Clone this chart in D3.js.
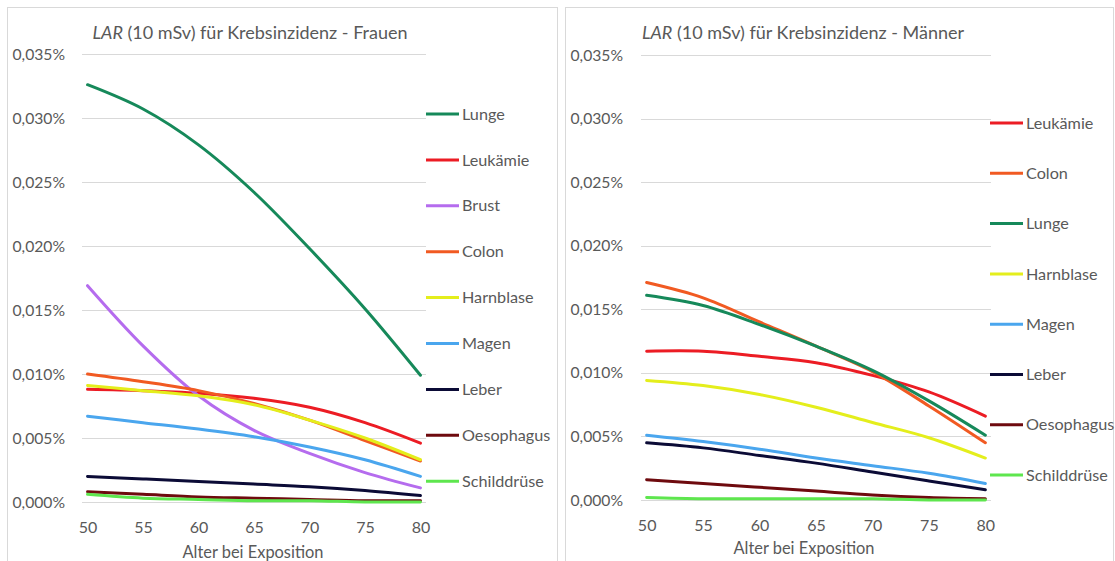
<!DOCTYPE html>
<html>
<head>
<meta charset="utf-8">
<script src="https://cdn.jsdelivr.net/npm/d3@7"></script>
<style>
  html, body { margin: 0; padding: 0; background: #fff; }
  svg { display: block; font-family: Lato, "Open Sans", sans-serif; }
</style>
</head>
<body>
<svg id="chart" width="1115" height="561"></svg>
<script>
// Age at exposure (category axis) and the ages where values are given
const ages = d3.range(50, 81);
const sampleAges = [50, 55, 60, 65, 70, 75, 80];
const tickAges = [50, 55, 60, 65, 70, 75, 80];
const yTicks = [0, 0.005, 0.01, 0.015, 0.02, 0.025, 0.03, 0.035];

// LAR (10 mSv) in percent – women
const womenNames = ["Lunge", "Leukämie", "Brust", "Colon", "Harnblase", "Magen", "Leber", "Oesophagus", "Schilddrüse"];
const womenLunge       = [0.0326, 0.0307, 0.0279, 0.0242, 0.0198, 0.0151, 0.0099];
const womenLeukaemie   = [0.0088, 0.0087, 0.0085, 0.0081, 0.0074, 0.0062, 0.0046];
const womenBrust       = [0.0169, 0.0122, 0.0083, 0.0056, 0.0038, 0.0023, 0.0011];
const womenColon       = [0.0100, 0.0094, 0.0087, 0.0077, 0.0064, 0.0048, 0.0032];
const womenHarnblase   = [0.0091, 0.0087, 0.0083, 0.0076, 0.0064, 0.0050, 0.0033];
const womenMagen       = [0.0067, 0.0062, 0.0057, 0.0051, 0.0043, 0.0033, 0.0020];
const womenLeber       = [0.0020, 0.0018, 0.0016, 0.0014, 0.0012, 0.0009, 0.0005];
const womenOesophagus  = [0.0008, 0.0006, 0.0004, 0.0003, 0.0002, 0.0001, 0.0001];
const womenSchilddruese= [0.0006, 0.0003, 0.0002, 0.0001, 0.0001, 0.0000, 0.0000];

// LAR (10 mSv) in percent – men
const menNames = ["Leukämie", "Colon", "Lunge", "Harnblase", "Magen", "Leber", "Oesophagus", "Schilddrüse"];
const menLeukaemie     = [0.0117, 0.0117, 0.0113, 0.0108, 0.0098, 0.0085, 0.0066];
const menColon         = [0.0171, 0.0159, 0.0140, 0.0121, 0.0101, 0.0074, 0.0045];
const menLunge         = [0.0161, 0.0153, 0.0138, 0.0121, 0.0102, 0.0078, 0.0051];
const menHarnblase     = [0.0094, 0.0090, 0.0083, 0.0073, 0.0061, 0.0049, 0.0033];
const menMagen         = [0.0051, 0.0046, 0.0040, 0.0033, 0.0027, 0.0021, 0.0013];
const menLeber         = [0.0045, 0.0041, 0.0035, 0.0029, 0.0022, 0.0015, 0.0008];
const menOesophagus    = [0.0016, 0.0013, 0.0010, 0.0007, 0.0004, 0.0002, 0.0001];
const menSchilddruese  = [0.0002, 0.0001, 0.0001, 0.0001, 0.0001, 0.0000, 0.0000];

const colors = {
  "Lunge": "#16895a",
  "Leukämie": "#ec1c24",
  "Brust": "#b56cee",
  "Colon": "#f15a22",
  "Harnblase": "#e4ee1c",
  "Magen": "#4aa6ee",
  "Leber": "#0b0b36",
  "Oesophagus": "#6e0a0e",
  "Schilddrüse": "#5ee64e"
};

const womenSeries = [womenLunge, womenLeukaemie, womenBrust, womenColon, womenHarnblase,
                     womenMagen, womenLeber, womenOesophagus, womenSchilddruese];
const menSeries = [menLeukaemie, menColon, menLunge, menHarnblase, menMagen,
                   menLeber, menOesophagus, menSchilddruese];

const svg = d3.select("#chart");
const fmt = v => d3.format(".3f")(v).replace(".", ",") + "%";
const textGrey = "#595959";

function panel(cfg) {
  const g = svg.append("g");
  // panel frame
  g.append("rect")
    .attr("x", cfg.frame[0] + 0.5).attr("y", 7.5)
    .attr("width", cfg.frame[1] - cfg.frame[0]).attr("height", 600)
    .attr("fill", "#fff").attr("stroke", "#d9d9d9").attr("stroke-width", 1);

  const x = d3.scalePoint().domain(ages).range(cfg.xr).padding(0.5);
  const y = d3.scaleLinear().domain([0, 0.035]).range(cfg.yr);

  // horizontal gridlines
  g.append("g").selectAll("line").data(yTicks).join("line")
    .attr("x1", cfg.xr[0]).attr("x2", cfg.xr[1])
    .attr("y1", d => Math.round(y(d)) + 0.5).attr("y2", d => Math.round(y(d)) + 0.5)
    .attr("stroke", "#d9d9d9").attr("stroke-width", 1);

  // y axis labels
  const yAxis = d3.axisLeft(y).tickValues(yTicks).tickFormat(fmt).tickSize(0).tickPadding(0);
  const ya = g.append("g").attr("transform", `translate(${cfg.yLabelX},0)`).call(yAxis);
  ya.select(".domain").remove();
  ya.selectAll("text").attr("font-size", 15.7).attr("fill", textGrey)
    .attr("font-family", "Lato, sans-serif");

  // x axis labels
  const xAxis = d3.axisBottom(x).tickValues(tickAges).tickSize(0).tickPadding(0);
  const xa = g.append("g").attr("transform", `translate(0,${cfg.xLabelY})`).call(xAxis);
  xa.select(".domain").remove();
  xa.selectAll("text").attr("font-size", 16).attr("fill", textGrey)
    .attr("dy", "0.35em").attr("font-family", "Lato, sans-serif");

  // axis title
  g.append("text").attr("x", cfg.axisTitleX).attr("y", cfg.axisTitleY)
    .attr("text-anchor", "middle").attr("dy", "0.35em")
    .attr("font-size", 16.4).attr("fill", textGrey).text("Alter bei Exposition");

  // chart title
  const t = g.append("text").attr("x", cfg.titleX).attr("y", 33)
    .attr("text-anchor", "middle").attr("dy", "0.35em")
    .attr("font-size", 18).attr("fill", textGrey);
  t.append("tspan").attr("font-style", "italic").text("LAR");
  t.append("tspan").text(" (10 mSv) für Krebsinzidenz - " + cfg.title);

  // series lines
  const line = d3.line()
    .x((d, i) => x(sampleAges[i]))
    .y(d => y(d))
    .curve(d3.curveCatmullRom.alpha(0.5));
  g.append("g").selectAll("path").data(cfg.series).join("path")
    .attr("d", d => line(d))
    .attr("fill", "none")
    .attr("stroke", (d, i) => colors[cfg.names[i]])
    .attr("stroke-width", 3)
    .attr("stroke-linejoin", "round").attr("stroke-linecap", "round");

  // legend
  const lg = g.append("g").selectAll("g").data(cfg.names).join("g")
    .attr("transform", (d, i) => `translate(${cfg.legendX},${cfg.legendY0 + i * cfg.legendStep})`);
  lg.append("line").attr("x1", 0).attr("x2", cfg.legendLen).attr("y1", 0).attr("y2", 0)
    .attr("stroke", d => colors[d]).attr("stroke-width", 3);
  lg.append("text").attr("x", cfg.legendLen + 3).attr("y", 0).attr("dy", "0.35em")
    .attr("font-size", 16.2).attr("fill", textGrey).text(d => d);
}

panel({
  frame: [7, 557], xr: [82, 426], yr: [502, 54],
  yLabelX: 65, xLabelY: 527, axisTitleX: 253, axisTitleY: 552, titleX: 250, title: "Frauen",
  names: womenNames, series: womenSeries,
  legendX: 426, legendY0: 114, legendStep: 45.9, legendLen: 33
});

panel({
  frame: [565, 1113], xr: [641, 991], yr: [500, 55],
  yLabelX: 623, xLabelY: 525, axisTitleX: 804, axisTitleY: 548, titleX: 803, title: "Männer",
  names: menNames, series: menSeries,
  legendX: 990, legendY0: 123, legendStep: 50.3, legendLen: 33
});
</script>
</body>
</html>
